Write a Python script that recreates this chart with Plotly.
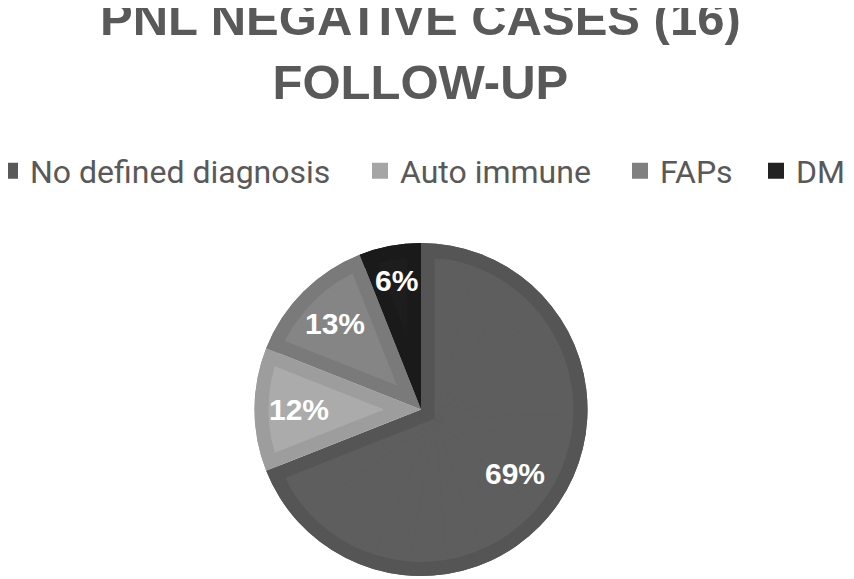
import math
import plotly.graph_objects as go

# chart data
labels = ["No defined diagnosis", "Auto immune", "FAPs", "DM"]
values = [69, 12, 13, 6]
fill_colors = ["#5e5e5e", "#ababab", "#858585", "#1d1d1d"]
edge_colors = ["#555555", "#9d9d9d", "#7a7a7a", "#1a1a1a"]
legend_colors = ["#595959", "#a5a5a5", "#808080", "#222222"]
label_r = [0.68, 0.73, 0.73, 0.79]      # where the % text sits, fraction of radius
legend_left = [30, 400, 660, 796]       # px where each legend text starts
title = "PNL NEGATIVE CASES (16)<br>FOLLOW-UP"

OFF = 8                      # page margin the browser adds round the plot
W, H = 854 - OFF, 579 - OFF
CX, CY, R = 421, 409.5, 166.5   # pie centre / radius, in page px
EDGE = 14                        # width of the darker inner border
GREY = "#595959"


def fx(px):
    return (px - OFF) / W


def fy(py):
    return 1 - (py - OFF) / H


def dom(cx, cy, r):
    return dict(x=[max(0, fx(cx - r)), min(1, fx(cx + r))],
                y=[max(0, fy(cy + r)), min(1, fy(cy - r))])


def reach(px, py, ang):
    # distance from (px,py) along angle (clockwise from 12 o'clock) to the inner circle
    ux, uy = math.sin(math.radians(ang)), -math.cos(math.radians(ang))
    ox, oy = px - CX, py - CY
    b = ox * ux + oy * uy
    c = ox * ox + oy * oy - (R - EDGE) ** 2
    return -b + math.sqrt(b * b - c)


common = dict(sort=False, direction="clockwise", textinfo="none", hoverinfo="skip")

fig = go.Figure()

# legend entries, one legend each so they can be spaced like the original
for i, (lab, col) in enumerate(zip(labels, legend_colors)):
    fig.add_trace(go.Scatter(x=[None], y=[None], mode="markers", name=lab,
                             legend="legend" if i == 0 else f"legend{i + 1}",
                             marker=dict(symbol="square", size=16, color=col)))

# bottom layer: whole pie in the border shades
fig.add_trace(go.Pie(labels=labels, values=values, domain=dom(CX, CY, R), rotation=0,
                     showlegend=False,
                     marker=dict(colors=edge_colors, line=dict(width=0)), **common))

# inset fill of every slice, built from narrow wedges anchored at the inset corner
total = sum(values)
start = 0
for i, (v, fc) in enumerate(zip(values, fill_colors)):
    span = 360 * v / total
    mid = start + span / 2
    s = EDGE / math.sin(math.radians(span / 2))
    px = CX + s * math.sin(math.radians(mid))
    py = CY - s * math.cos(math.radians(mid))
    n = max(1, math.ceil(span / 15))
    step = span / n
    for k in range(n):
        a0 = start + k * step
        r = max(reach(px, py, a0 + step * j / 8) for j in range(9))
        r = min(r, px - OFF, W + OFF - px, py - OFF, H + OFF - py)
        fig.add_trace(go.Pie(values=[step, 360 - step], labels=[f"s{i}_{k}", f"g{i}_{k}"],
                             domain=dom(px, py, r), rotation=a0, showlegend=False,
                             marker=dict(colors=[fc, "rgba(0,0,0,0)"],
                                         line=dict(color=[fc, "rgba(0,0,0,0)"], width=[1, 0])),
                             **common))
    start += span

# outer ring in the border shades trims the wedges
fig.add_trace(go.Pie(labels=labels, values=values, domain=dom(CX, CY, R), rotation=0,
                     hole=(R - EDGE) / R, showlegend=False,
                     marker=dict(colors=edge_colors, line=dict(width=0)), **common))

# percentage labels
start = 0
for v, lr in zip(values, label_r):
    span = 360 * v / total
    mid = math.radians(start + span / 2)
    x = CX + lr * R * math.sin(mid)
    y = CY - lr * R * math.cos(mid)
    fig.add_annotation(x=fx(x), y=fy(y), xref="paper", yref="paper",
                       xanchor="center", yanchor="middle",
                       text=f"{round(100 * v / total)}%", showarrow=False,
                       font=dict(family="Liberation Sans", size=30, color="white", weight="bold"))
    start += span

# chart title
fig.add_annotation(x=fx(420), y=fy(50), xref="paper", yref="paper", xanchor="center",
                   yanchor="middle", text=title, showarrow=False,
                   font=dict(family="Liberation Sans", size=49, color=GREY, weight="bold"))

legend_style = dict(orientation="h", xanchor="left", y=fy(171), yanchor="middle",
                    bgcolor="rgba(0,0,0,0)", itemsizing="trace",
                    font=dict(family="Roboto", size=32, color=GREY))
legends = {}
for i, left in enumerate(legend_left):
    key = "legend" if i == 0 else f"legend{i + 1}"
    legends[key] = dict(x=fx(left - 40), **legend_style)

fig.update_layout(
    width=W, height=H,
    margin=dict(l=0, r=0, t=0, b=0, autoexpand=False),
    paper_bgcolor="white", plot_bgcolor="white",
    xaxis=dict(visible=False), yaxis=dict(visible=False),
    **legends,
)

fig.write_html("out.html")
